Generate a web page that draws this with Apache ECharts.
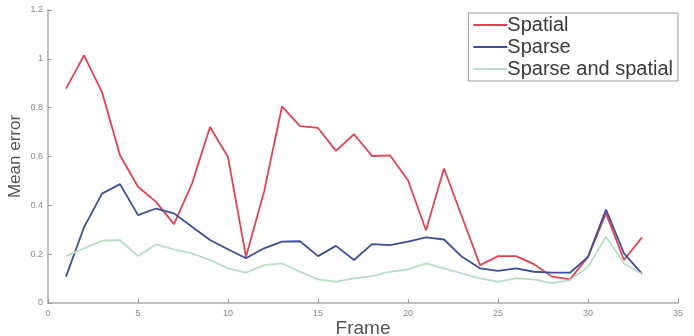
<!DOCTYPE html>
<html><head><meta charset="utf-8">
<script src="https://cdn.jsdelivr.net/npm/echarts@6/dist/echarts.min.js"></script>
<style>html,body{margin:0;padding:0;background:#fff}#c{width:694px;height:336px}</style>
</head><body><div id="c"></div>
<script>
const frames = [1,2,3,4,5,6,7,8,9,10,11,12,13,14,15,16,17,18,19,20,21,22,23,24,25,26,27,28,29,30,31,32,33];
const spatial = [0.878,1.014,0.864,0.605,0.476,0.414,0.323,0.489,0.721,0.598,0.189,0.455,0.805,0.724,0.717,0.623,0.691,0.602,0.605,0.503,0.298,0.551,0.353,0.155,0.192,0.192,0.159,0.108,0.097,0.189,0.367,0.176,0.269];
const sparse = [0.108,0.31,0.448,0.487,0.36,0.387,0.367,0.312,0.258,0.22,0.183,0.224,0.251,0.253,0.192,0.234,0.176,0.241,0.237,0.251,0.269,0.26,0.189,0.142,0.132,0.142,0.128,0.124,0.124,0.189,0.383,0.203,0.119];
const sparseSpatial = [0.192,0.224,0.255,0.258,0.192,0.24,0.22,0.203,0.176,0.142,0.124,0.155,0.162,0.128,0.097,0.087,0.101,0.11,0.128,0.138,0.162,0.142,0.121,0.101,0.087,0.101,0.097,0.081,0.094,0.148,0.271,0.162,0.119];
const seriesNames = ['Spatial','Sparse','Sparse and spatial'];
const colors = ['#e2434f','#3b4f9e','#b7dfc6'];
const xTicks = {min:0,max:35,interval:5};
const yTicks = {min:0,max:1.2,interval:0.2};

const chart = echarts.init(document.getElementById('c'));
const font = 'Liberation Sans, Arial, sans-serif';
const mk = (name, vals, i) => ({
  name, type:'line', data: frames.map((f,k)=>[f, vals[k]]),
  symbol:'none', lineStyle:{color:colors[i], width:1.8}, itemStyle:{color:colors[i]}
});
chart.setOption({
  animation:false,
  grid:{left:48,right:16,top:10,bottom:33,containLabel:false,outerBoundsMode:'none'},
  legend:{
    data:seriesNames, orient:'vertical', right:16, top:13,
    backgroundColor:'#fff', borderColor:'#999', borderWidth:1, padding:[1,5,1,5],
    itemWidth:34, itemHeight:2, itemGap:0, icon:'rect',
    textStyle:{fontFamily:font, fontSize:20, lineHeight:22, color:'#3a3a3a', padding:[0,0,0,-5]}
  },
  xAxis:{type:'value', min:xTicks.min, max:xTicks.max, interval:xTicks.interval,
    name:'Frame', nameLocation:'middle', nameGap:16, nameMoveOverlap:false,
    nameTextStyle:{fontFamily:font, fontSize:19, color:'#555', verticalAlign:'top'},
    axisLine:{lineStyle:{color:'#aaa', width:1.5}},
    axisTick:{inside:true, length:4, lineStyle:{color:'#999'}},
    axisLabel:{fontFamily:font, fontSize:9, color:'#888', margin:6},
    splitLine:{show:false}},
  yAxis:{type:'value', min:yTicks.min, max:yTicks.max, interval:yTicks.interval,
    name:'Mean error', nameLocation:'middle', nameGap:24, nameMoveOverlap:false,
    nameTextStyle:{fontFamily:font, fontSize:17, color:'#555'},
    axisLine:{show:true, lineStyle:{color:'#aaa', width:1.5}},
    axisTick:{show:true, inside:true, length:4, lineStyle:{color:'#999'}},
    axisLabel:{fontFamily:font, fontSize:9, color:'#888', margin:5},
    splitLine:{show:false}},
  series:[mk(seriesNames[0], spatial, 0), mk(seriesNames[1], sparse, 1), mk(seriesNames[2], sparseSpatial, 2)]
});
</script></body></html>
